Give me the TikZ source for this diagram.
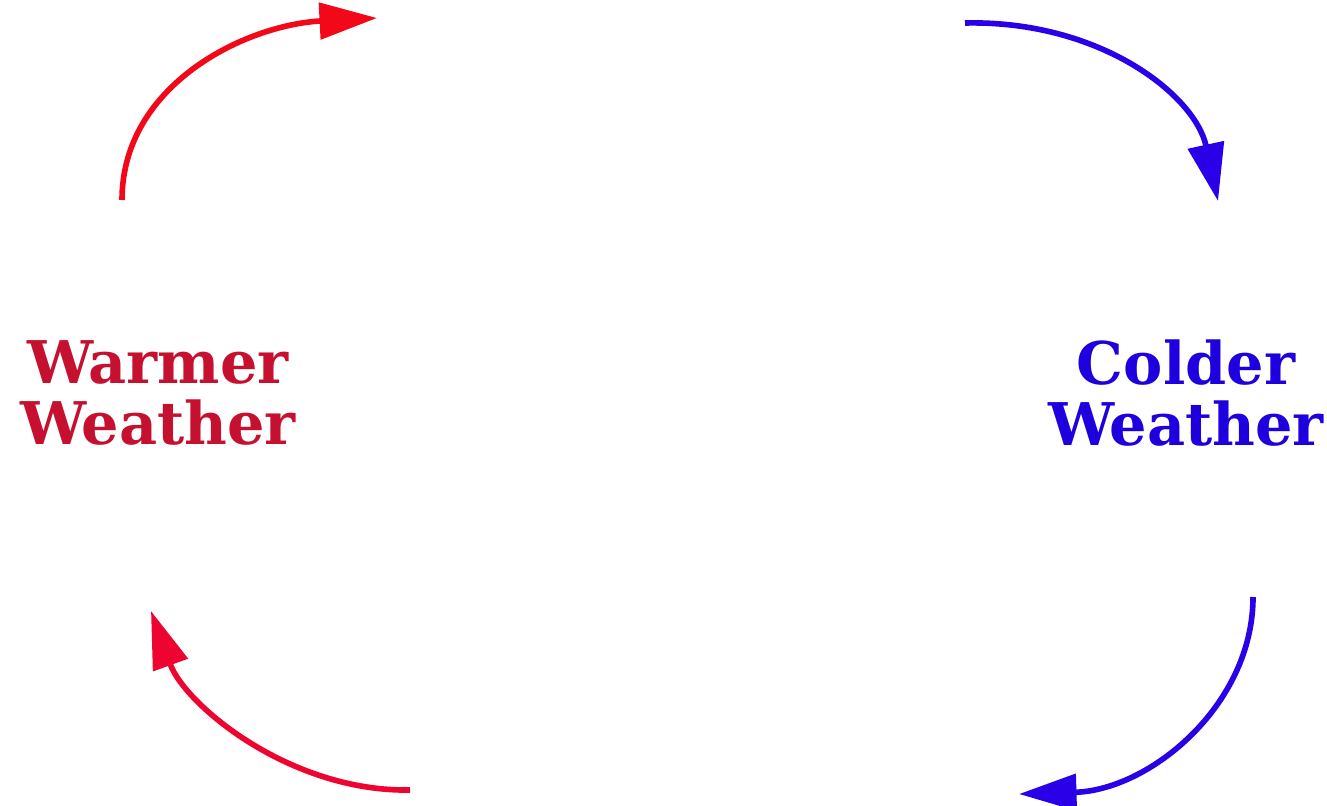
\documentclass[tikz,border=0pt]{standalone}
\usepackage{fontspec}
\setmainfont{DejaVu Serif}
\usetikzlibrary{arrows.meta}
\definecolor{warmtext}{RGB}{198,16,48}
\definecolor{warmarrow}{RGB}{242,8,24}
\definecolor{warmarrowb}{RGB}{238,4,48}
\definecolor{coldtext}{RGB}{30,0,222}
\definecolor{coldarrow}{RGB}{42,0,232}
\tikzset{
  label text/.style={font=\bfseries\fontsize{33.5}{35}\selectfont, align=center, inner sep=0pt},
  loop arrow/.style={line width=3.2pt, -{Triangle[length=1.15cm, width=0.72cm]}},
}
\begin{document}
\begin{tikzpicture}[x=0.02cm, y=-0.02cm]
  \useasboundingbox (0,0) rectangle (1327,805);

  % the two states of the cycle
  \node[label text, text=warmtext] (warm) at (158,393) {Warmer\\Weather};
  \node[label text, text=coldtext] (cold) at (1186,393) {Colder\\Weather};

  % end points of the four curved arrows
  \coordinate (tlS) at (122,200);
  \coordinate (tlE) at (377,18);
  \coordinate (trS) at (965,23);
  \coordinate (trE) at (1218,201);
  \coordinate (brS) at (1253,597);
  \coordinate (brE) at (1019,794);
  \coordinate (blS) at (410,790);
  \coordinate (blE) at (151,611);

  % warming side (red) and cooling side (blue)
  \draw[loop arrow, warmarrow] (tlS) .. controls (122,85) and (245,25) .. (tlE);
  \draw[loop arrow, coldarrow] (trS) .. controls (1100,20) and (1195,95) .. (trE);
  \draw[loop arrow, coldarrow] (brS) .. controls (1253,705) and (1150,790) .. (brE);
  \draw[loop arrow, warmarrowb] (blS) .. controls (290,792) and (185,705) .. (blE);
\end{tikzpicture}
\end{document}
